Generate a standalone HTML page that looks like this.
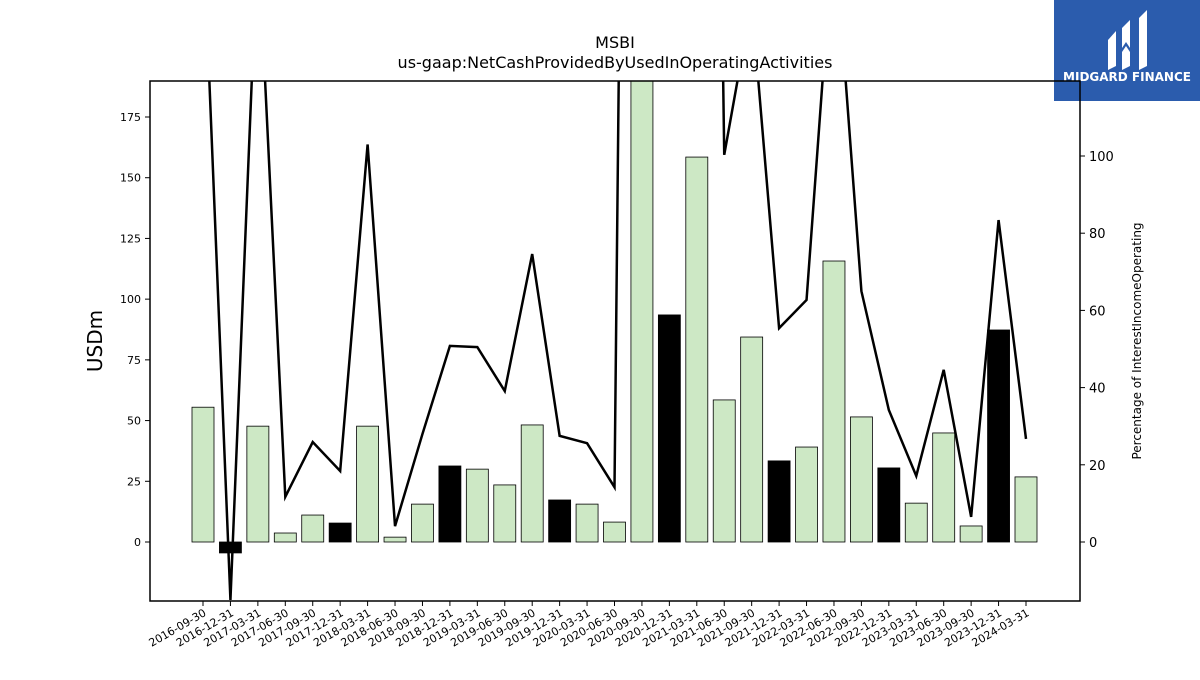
<!DOCTYPE html>
<html><head><meta charset="utf-8"><style>
body{margin:0;background:#fff;font-family:"Liberation Sans","DejaVu Sans",sans-serif}
svg text{font-family:"DejaVu Sans","Liberation Sans",sans-serif}
</style></head><body>
<svg id="chart" width="1200" height="675" xmlns="http://www.w3.org/2000/svg">
<rect width="1200" height="675" fill="#fff"/>
<text x="615" y="48" font-size="16" text-anchor="middle">MSBI</text>
<text x="615" y="68" font-size="16" text-anchor="middle">us-gaap:NetCashProvidedByUsedInOperatingActivities</text>
<g id="logo">
<rect x="1054" y="0" width="146" height="101" fill="#2b5cad"/>
<path d="M1108 40 L1116 31 L1116 66 L1108 70 Z" fill="#fff"/>
<path d="M1122 28 L1130 20 L1130 48 L1126 42 L1122 48 Z" fill="#fff"/>
<path d="M1122 52 L1126 46 L1130 52 L1130 66 L1122 70 Z" fill="#fff"/>
<path d="M1139 18 L1147 10 L1147 66 L1139 70 Z" fill="#fff"/>
<text x="1127" y="81" font-size="12" font-weight="bold" fill="#fff" text-anchor="middle">MIDGARD FINANCE</text>
</g>
<g id="plot"></g>
<rect x="150" y="81" width="930" height="520" fill="none" stroke="#000" stroke-width="1.5"/>
<text transform="translate(102,341) rotate(-90)" font-size="20" text-anchor="middle">USDm</text>
<text transform="translate(1141,341) rotate(-90)" font-size="12" text-anchor="middle">Percentage of InterestIncomeOperating</text>
</svg>
<script>
const categories=["2016-09-30","2016-12-31","2017-03-31","2017-06-30","2017-09-30","2017-12-31","2018-03-31","2018-06-30","2018-09-30","2018-12-31","2019-03-31","2019-06-30","2019-09-30","2019-12-31","2020-03-31","2020-06-30","2020-09-30","2020-12-31","2021-03-31","2021-06-30","2021-09-30","2021-12-31","2022-03-31","2022-06-30","2022-09-30","2022-12-31","2023-03-31","2023-06-30","2023-09-30","2023-12-31","2024-03-31"];
const cashValues=[55.5,-4.5,47.7,3.7,11.1,7.8,47.7,2,15.6,31.3,30,23.5,48.2,17.3,15.6,8.2,250,93.5,158.5,58.5,84.4,33.4,39.1,115.7,51.5,30.5,16,44.9,6.6,87.3,26.8];
const pctValues=[160,-15,158,11.7,25.9,18.4,103,4.1,28,50.8,50.5,39.1,74.6,27.5,25.6,14.2,700,650,600,100.3,140,55.4,62.7,160,65,34.2,17.1,44.6,6.5,83.4,26.7];
const leftTicks=[0,25,50,75,100,125,150,175];
const rightTicks=[0,20,40,60,80,100];
const NS="http://www.w3.org/2000/svg";
const X0=150,X1=1080,Y0=81,Y1=601;
const xPos=i=>203+i*(1026-203)/(categories.length-1);
const yL=v=>542-v*(425/175);
const yR=v=>542-v*3.86;
const plot=document.getElementById('plot');
function mk(tag,attrs,parent){const e=document.createElementNS(NS,tag);for(const k in attrs)e.setAttribute(k,attrs[k]);(parent||plot).appendChild(e);return e;}
const clip=mk('clipPath',{id:'pc'});mk('rect',{x:X0,y:Y0,width:X1-X0,height:Y1-Y0},clip);
const g=mk('g',{'clip-path':'url(#pc)'});
categories.forEach((c,i)=>{
  const v=cashValues[i];const y=Math.min(yL(v),yL(0));const h=Math.abs(yL(v)-yL(0));
  const b=mk('rect',{x:xPos(i)-11,y:y,width:22,height:h,fill:c.endsWith('12-31')?'#000':'#cde8c5',stroke:'#000','stroke-width':0.8},g);
  
  
});
const line=mk('polyline',{points:pctValues.map((v,i)=>xPos(i)+','+yR(v)).join(' '),fill:'none',stroke:'#000','stroke-width':2.5},g);


leftTicks.forEach(t=>{
  const y=yL(t);
  mk('line',{x1:X0-5,x2:X0,y1:y,y2:y,stroke:'#000'});
  const tx=mk('text',{x:X0-9,y:y+4,'font-size':11,'text-anchor':'end'});tx.textContent=t;
  
  
});
rightTicks.forEach(t=>{
  const y=yR(t);
  mk('line',{x1:X1,x2:X1+5,y1:y,y2:y,stroke:'#000'});
  const tx=mk('text',{x:X1+9,y:y+5,'font-size':13});tx.textContent=t;
  
  
});
categories.forEach((c,i)=>{
  const x=xPos(i);
  mk('line',{x1:x,x2:x,y1:Y1,y2:Y1+5,stroke:'#000'});
  const tx=mk('text',{transform:`translate(${x+4},${Y1+14}) rotate(-30)`,'font-size':11,'text-anchor':'end'});tx.textContent=c;
  
  
});
</script>
</body></html>
